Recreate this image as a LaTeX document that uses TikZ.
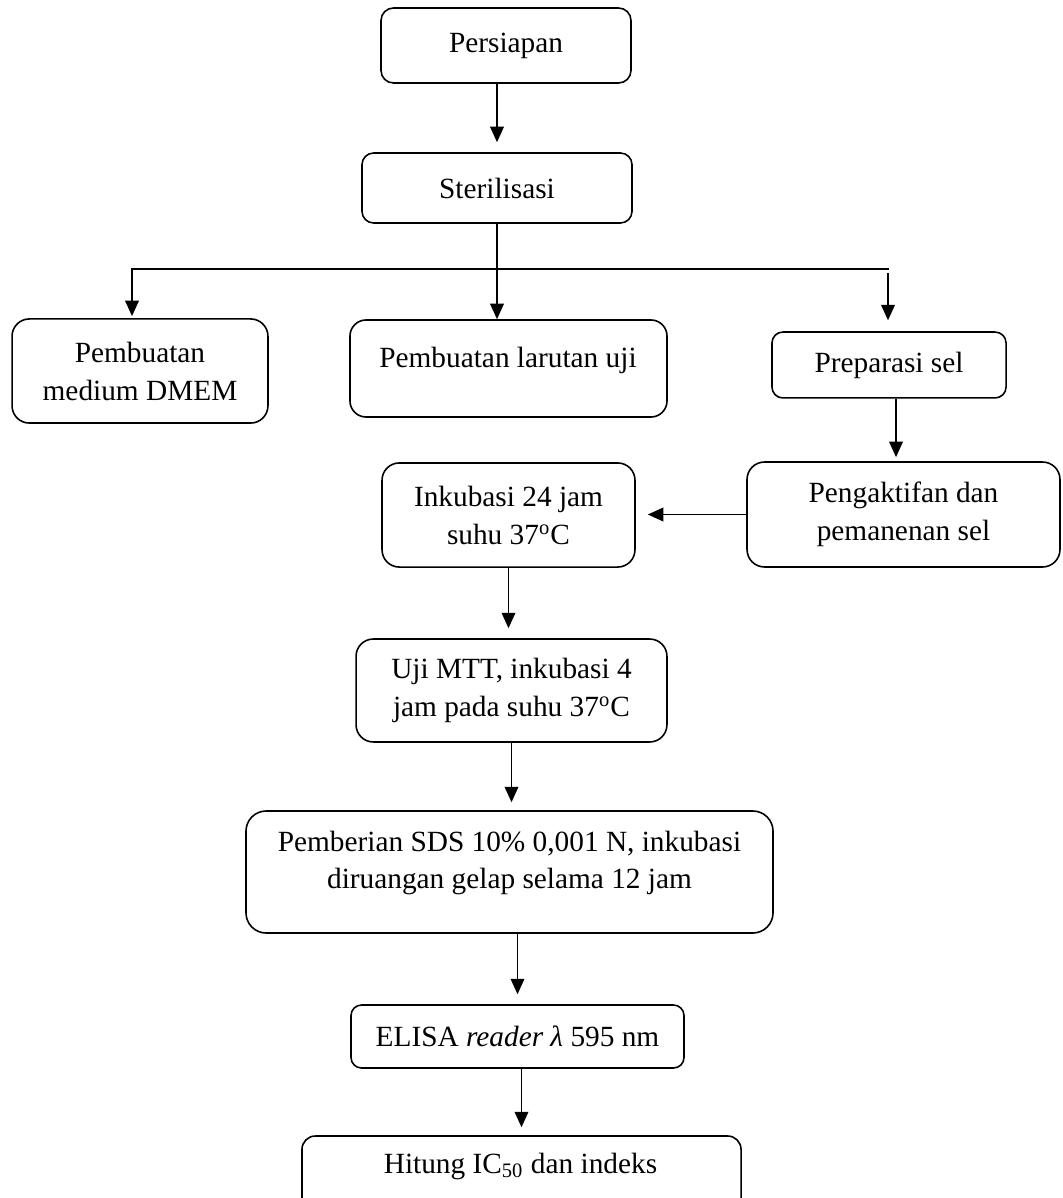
\documentclass[tikz,border=0pt]{standalone}
\usepackage{fontspec}
\setmainfont{Liberation Serif}
\usetikzlibrary{arrows.meta}
\begin{document}
\begin{tikzpicture}[x=0.44pt,y=-0.44pt,
  box/.style={draw, line width=0.7pt, inner sep=0pt, align=center, font=\fontsize{12.9pt}{16.7pt}\selectfont},
  txt/.style={inner sep=0pt, align=center, font=\fontsize{12.9pt}{16.7pt}\selectfont},
  arr/.style={line width=0.7pt, -{Triangle[length=6.8pt,width=6pt]}},
  ln/.style={line width=0.7pt}]
\useasboundingbox (0,0) rectangle (1062,1198);
% boxes
\node[box, minimum width=110pt, minimum height=33pt, rounded corners=5.5pt] (pers) at (506,45.5) {Persiapan};
\node[box, minimum width=118.8pt, minimum height=30.8pt, rounded corners=5.1pt] (steril) at (497,188) {Sterilisasi};
\node[box, minimum width=112.6pt, minimum height=45.8pt, rounded corners=7.6pt] (dmem) at (140,371) {Pembuatan\\medium DMEM};
\node[box, minimum width=139.5pt, minimum height=42.7pt, rounded corners=7.1pt] (larutan) at (508.5,368.5) {};
\node[txt] (larutanT) at (508,360) {Pembuatan larutan uji};
\node[box, minimum width=103pt, minimum height=29pt, rounded corners=4.8pt] (prep) at (889,365) {Preparasi sel};
\node[box, minimum width=137.7pt, minimum height=46.2pt, rounded corners=7.7pt] (peng) at (903.5,514.5) {Pengaktifan dan\\pemanenan sel};
\node[box, minimum width=111.3pt, minimum height=45.8pt, rounded corners=7.6pt] (ink) at (508.5,515) {Inkubasi 24 jam\\suhu 37\textsuperscript{o}C};
\node[box, minimum width=136.8pt, minimum height=45.3pt, rounded corners=7.6pt] (uji) at (511.5,690.5) {Uji MTT, inkubasi 4\\jam pada suhu 37\textsuperscript{o}C};
\node[box, minimum width=231.9pt, minimum height=53.7pt, rounded corners=8.9pt] (pemb) at (509.5,872) {};
\node[txt] (pembT) at (509.5,863) {Pemberian SDS 10\% 0,001 N, inkubasi\\diruangan gelap selama 12 jam};
\node[box, minimum width=146.5pt, minimum height=27.7pt, rounded corners=4.6pt] (elisa) at (517.5,1036.5) {ELISA \textit{reader λ} 595 nm};
\node[box, minimum width=193.2pt, minimum height=35.2pt, rounded corners=5.9pt] (hitung) at (521.5,1176) {};
\node[txt] (hitungT) at (520.5,1166) {Hitung IC\textsubscript{50} dan indeks};
% connectors
\coordinate (hl) at (132,269);
\coordinate (hr) at (889,269);
\coordinate (hr2) at (888,273);
\coordinate (pp) at (896,0);
\draw[arr, shorten >=4.4pt] (pers.south -| steril.north) -- (steril.north);
\draw[arr] (steril.south) -- (steril.south |- larutan.north);
\draw[arr, shorten >=0.9pt] (hr) -- (hl) -- (hl |- dmem.north);
\draw[arr, shorten >=4.8pt] (hr2) -- (hr2 |- prep.north);
\draw[arr, shorten >=1.8pt] (prep.south -| pp) -- (peng.north -| pp);
\draw[arr, shorten >=5.3pt] (peng.west) -- (peng.west -| ink.east);
\draw[arr, shorten >=4.4pt] (ink.south) -- (ink.south |- uji.north);
\draw[arr, shorten >=3.5pt] (uji.south) -- (uji.south |- pemb.north);
\draw[arr, shorten >=4.4pt] (elisa.north |- pemb.south) -- (elisa.north);
\draw[arr, shorten >=3.5pt] (hitung.north |- elisa.south) -- (hitung.north);
\end{tikzpicture}
\end{document}
